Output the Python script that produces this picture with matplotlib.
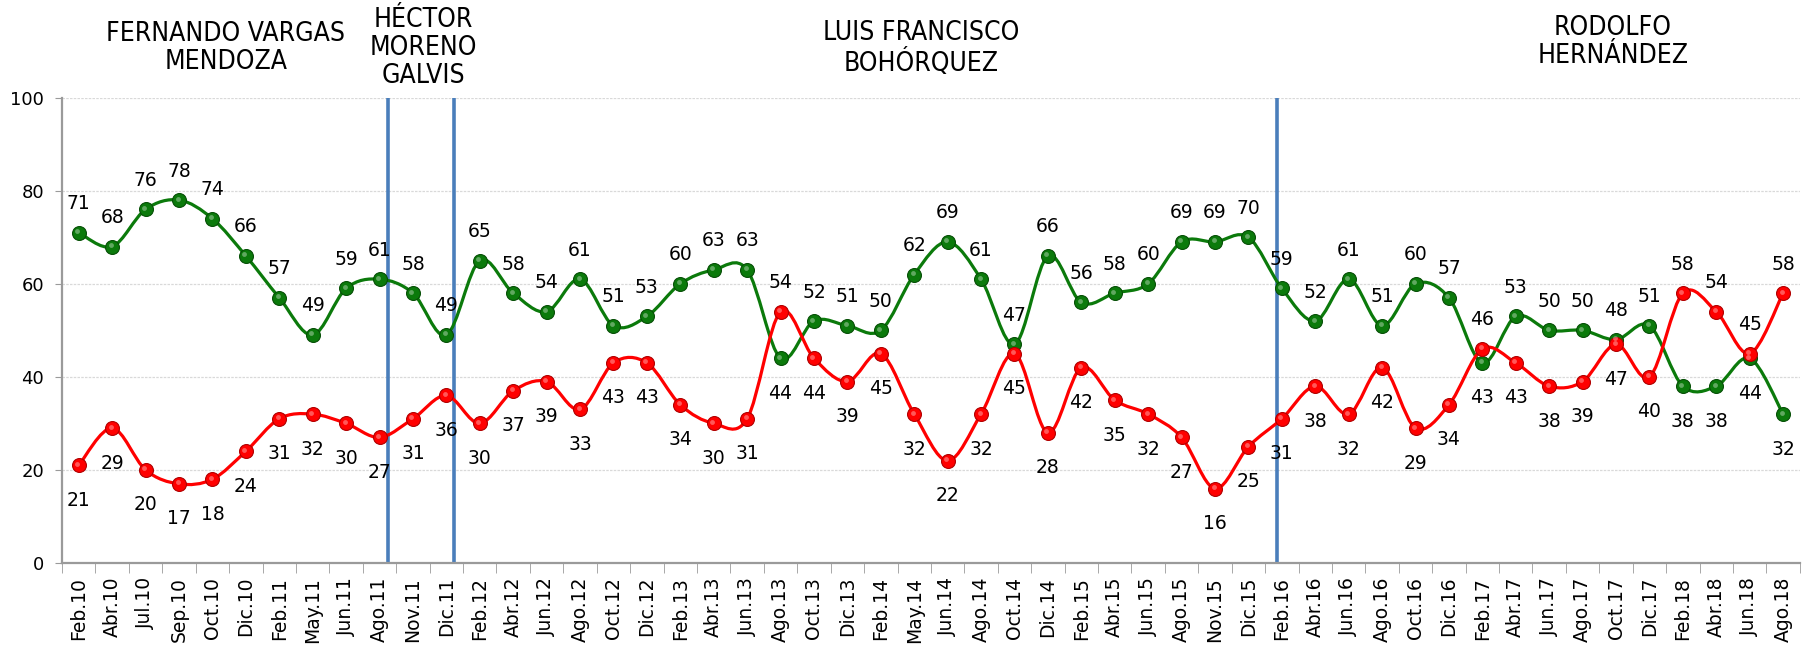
import numpy as np
import matplotlib
matplotlib.use("Agg")
from matplotlib import pyplot as plt
from matplotlib.path import Path
from matplotlib.patches import PathPatch
import matplotlib.transforms as mtransforms

# --- data -------------------------------------------------------------
months = ["Feb.10", "Abr.10", "Jul.10", "Sep.10", "Oct.10", "Dic.10",
          "Feb.11", "May.11", "Jun.11", "Ago.11", "Nov.11", "Dic.11",
          "Feb.12", "Abr.12", "Jun.12", "Ago.12", "Oct.12", "Dic.12",
          "Feb.13", "Abr.13", "Jun.13", "Ago.13", "Oct.13", "Dic.13",
          "Feb.14", "May.14", "Jun.14", "Ago.14", "Oct.14", "Dic.14",
          "Feb.15", "Abr.15", "Jun.15", "Ago.15", "Nov.15", "Dic.15",
          "Feb.16", "Abr.16", "Jun.16", "Ago.16", "Oct.16", "Dic.16",
          "Feb.17", "Abr.17", "Jun.17", "Ago.17", "Oct.17", "Dic.17",
          "Feb.18", "Abr.18", "Jun.18", "Ago.18"]

favorable = [71, 68, 76, 78, 74, 66, 57, 49, 59, 61, 58, 49,
             65, 58, 54, 61, 51, 53, 60, 63, 63, 44, 52, 51,
             50, 62, 69, 61, 47, 66, 56, 58, 60, 69, 69, 70,
             59, 52, 61, 51, 60, 57, 43, 53, 50, 50, 48, 51,
             38, 38, 44, 32]

desfavorable = [21, 29, 20, 17, 18, 24, 31, 32, 30, 27, 31, 36,
                30, 37, 39, 33, 43, 43, 34, 30, 31, 54, 44, 39,
                45, 32, 22, 32, 45, 28, 42, 35, 32, 27, 16, 25,
                31, 38, 32, 42, 29, 34, 46, 43, 38, 39, 47, 40,
                58, 54, 45, 58]

alcaldes = ["FERNANDO VARGAS\nMENDOZA", "HÉCTOR\nMORENO\nGALVIS",
            "LUIS FRANCISCO\nBOHÓRQUEZ", "RODOLFO\nHERNÁNDEZ"]
cambios = [9.25, 11.22, 35.84]          # change of mayor, between surveys

GREEN = "#0B7A0B"
RED = "#FF0000"
BLUE = "#4A7EBB"


def smooth_path(x, y):
    # Excel-like smoothed line: cubic bezier through every point
    pts = np.column_stack([x, y]).astype(float)
    verts = [pts[0]]
    codes = [Path.MOVETO]
    n = len(pts)
    for i in range(n - 1):
        p0 = pts[max(i - 1, 0)]
        p1 = pts[i]
        p2 = pts[i + 1]
        p3 = pts[min(i + 2, n - 1)]
        verts += [p1 + (p2 - p0) / 6, p2 - (p3 - p1) / 6, p2]
        codes += [Path.CURVE4] * 3
    return Path(verts, codes)


x = np.arange(len(months))

fig = plt.figure(figsize=(18.14, 6.49), dpi=100)
ax = fig.add_axes([0.0342, 0.1325, 0.958, 0.717])

ax.set_xlim(-0.5, len(months) - 0.5)
ax.set_ylim(0, 100)

for yy in [20, 40, 60, 80, 100]:
    ax.axhline(yy, color="#D9D9D9", lw=0.9, ls=(0, (2, 1)), zorder=0)

for xc in cambios:
    ax.plot([xc, xc], [0, 100], color=BLUE, lw=2.6, zorder=2,
            solid_capstyle="butt")

for vals, col, edge in [(favorable, GREEN, "#064F06"),
                        (desfavorable, RED, "#B00000")]:
    ax.add_patch(PathPatch(smooth_path(x, vals), fill=False, ec=col,
                           lw=2.3, zorder=3))
    ax.plot(x, vals, ls="none", marker="o", ms=10, mfc=col, mec=edge,
            mew=0.8, zorder=4)
    # small highlight to suggest the 3d balls
    hl = mtransforms.offset_copy(ax.transData, fig=fig, x=-1.5, y=1.5,
                                 units="dots")
    ax.plot(x, vals, ls="none", marker="o", ms=3.5, mfc="white", mec="none",
            alpha=0.35, zorder=5, transform=hl)

# data labels: higher value above, lower value below
for i in range(len(months)):
    g, r = favorable[i], desfavorable[i]
    for v, up in [(g, g >= r), (r, r > g)]:
        ax.annotate(str(v), (i, v), xytext=(0, 29 if up else -35),
                    textcoords="offset pixels", ha="center", va="center",
                    fontsize=13.5, color="black", zorder=6)

ax.set_xticks(x)
ax.set_xticklabels(months, rotation=90, fontsize=13.5)
ax.set_xticks(np.arange(-0.5, len(months)), minor=True)
ax.tick_params(axis="x", which="major", length=0, pad=10)
ax.tick_params(axis="x", which="minor", length=7, color="#9A9A9A")
ax.set_yticks([0, 20, 40, 60, 80, 100])
ax.tick_params(axis="y", labelsize=13, length=5, color="#9A9A9A", pad=8)

for s in ["top", "right"]:
    ax.spines[s].set_visible(False)
for s in ["left", "bottom"]:
    ax.spines[s].set_color("#9A9A9A")
    ax.spines[s].set_linewidth(1.6)

# mayor names over each period
blend = mtransforms.blended_transform_factory(ax.transData, fig.transFigure)
name_x = [4.4, 10.3, 25.2, 45.9]
name_y = [0.926, 0.926, 0.925, 0.935]
for nm, nx, ny in zip(alcaldes, name_x, name_y):
    ax.text(nx, ny, nm, transform=blend, ha="center", va="center",
            fontsize=19, family="DejaVu Sans", fontstretch="condensed",
            linespacing=1.12)

fig.savefig("out.png", dpi=100)
